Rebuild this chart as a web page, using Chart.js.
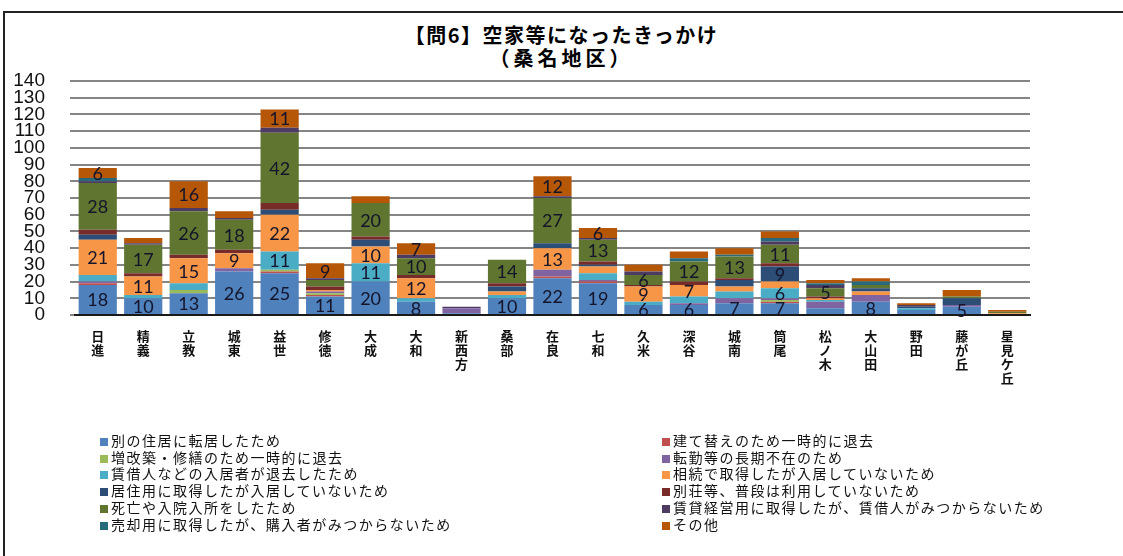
<!DOCTYPE html>
<html>
<head>
<meta charset="utf-8">
<script src="https://cdn.jsdelivr.net/npm/chart.js@4.4.0/dist/chart.umd.min.js"></script>
<style>
  html, body { margin: 0; padding: 0; background: #fff; }
  body { width: 1123px; height: 556px; position: relative; overflow: hidden; font-family: "Noto Sans CJK JP", sans-serif; }
  #frame { position: absolute; left: 3px; top: 11px; width: 1130px; height: 560px; border-left: 2px solid #222; border-top: 2px solid #222; box-sizing: border-box; }
  #title { position: absolute; left: 0; width: 1123px; top: 23px; text-align: center; font-weight: bold; font-size: 20px; line-height: 23px; color: #000; }
  #title .l1 { letter-spacing: 1.5px; }
  #title .l2 { letter-spacing: 4px; }
  #chartBox { position: absolute; left: 0; top: 0; width: 1123px; height: 420px; }
  #legend { position: absolute; left: 0; top: 0; width: 1123px; height: 556px; pointer-events: none; }
  .li { position: absolute; font-size: 14px; letter-spacing: 1.5px; line-height: 16px; color: #111; white-space: nowrap; }
  .sw { display: inline-block; width: 8px; height: 8px; margin-right: 3px; vertical-align: 0px; }
</style>
</head>
<body>
<div id="frame"></div>
<div id="title"><span class="l1">【問6】空家等になったきっかけ</span><br><span class="l2">（桑名地区）</span></div>
<div id="chartBox"><canvas id="c" width="1123" height="420"></canvas></div>
<div id="legend"></div>
<script>
const categories = ["日進","精義","立教","城東","益世","修徳","大成","大和","新西方","桑部","在良","七和","久米","深谷","城南","筒尾","松ノ木","大山田","野田","藤が丘","星見ケ丘"];

const seriesNames = [
  "別の住居に転居したため",
  "建て替えのため一時的に退去",
  "増改築・修繕のため一時的に退去",
  "転勤等の長期不在のため",
  "賃借人などの入居者が退去したため",
  "相続で取得したが入居していないため",
  "居住用に取得したが入居していないため",
  "別荘等、普段は利用していないため",
  "死亡や入院入所をしたため",
  "賃貸経営用に取得したが、賃借人がみつからないため",
  "売却用に取得したが、購入者がみつからないため",
  "その他"
];

const sBetsu      = [18,10,13,26,25,11,20, 8, 1,10,22,19, 6, 6, 7, 7, 4, 8, 3, 5, 0];
const sTatekae    = [ 1, 0, 0, 0, 1, 1, 0, 0, 0, 0, 1, 1, 0, 0, 0, 1, 0, 0, 0, 0, 0];
const sZoukaichiku= [ 0, 0, 2, 0, 1, 1, 0, 0, 0, 0, 0, 0, 0, 0, 0, 1, 0, 0, 0, 0, 0];
const sTenkin     = [ 1, 0, 0, 2, 0, 1, 0, 0, 3, 0, 4, 1, 0, 1, 3, 1, 4, 4, 0, 1, 0];
const sChinshaku  = [ 4, 2, 4, 0,11, 0,11, 2, 0, 2, 0, 4, 2, 4, 4, 6, 1, 0, 1, 0, 0];
const sSouzoku    = [21,11,15, 9,22, 1,10,12, 0, 2,13, 4, 9, 7, 3, 4, 1, 2, 0, 0, 1];
const sKyojuu     = [ 3, 0, 0, 0, 3, 0, 4, 0, 0, 3, 3, 1, 0, 0, 4, 9, 0, 2, 1, 4, 0];
const sBessou     = [ 3, 2, 2, 2, 4, 2, 2, 2, 0, 2, 0, 2, 1, 2, 1, 2, 1, 0, 0, 0, 0];
const sShibou     = [28,17,26,18,42, 4,20,10, 0,14,27,13, 6,12,13,11, 5, 2, 0, 1, 1];
const sChintai    = [ 1, 1, 2, 1, 3, 1, 0, 2, 1, 0, 1, 1, 2, 0, 0, 2, 2, 0, 1, 0, 0];
const sBaikyaku   = [ 2, 0, 0, 0, 0, 0, 0, 0, 0, 0, 0, 0, 0, 2, 1, 2, 1, 2, 0, 0, 0];
const sSonota     = [ 6, 3,16, 4,11, 9, 4, 7, 0, 0,12, 6, 4, 4, 4, 4, 2, 2, 1, 4, 1];

const yTicks = [0,10,20,30,40,50,60,70,80,90,100,110,120,130,140];

const seriesValues = [sBetsu,sTatekae,sZoukaichiku,sTenkin,sChinshaku,sSouzoku,sKyojuu,sBessou,sShibou,sChintai,sBaikyaku,sSonota];
const colors = ["#4F81BD","#C0504D","#9BBB59","#8064A2","#4BACC6","#F79646","#2C4D75","#772C2A","#5F7530","#4D3B62","#276A7C","#B65708"];

const labelPlugin = {
  id: 'segLabels',
  afterDatasetsDraw(chart) {
    const ctx = chart.ctx;
    ctx.save();
    ctx.font = '18px Lato, "Liberation Sans", sans-serif';
    ctx.fillStyle = '#14142a';
    ctx.textAlign = 'center';
    ctx.textBaseline = 'middle';
    chart.data.datasets.forEach((ds, i) => {
      const meta = chart.getDatasetMeta(i);
      meta.data.forEach((el, j) => {
        const v = ds.data[j];
        if (v >= 5) {
          const p = el.getProps(['x','y','base'], true);
          ctx.fillText(String(v), p.x, (p.y + p.base) / 2 + 1);
        }
      });
    });
    ctx.restore();
  }
};

const chart = new Chart(document.getElementById('c'), {
  type: 'bar',
  data: {
    labels: categories,
    datasets: seriesNames.map((n, i) => ({
      label: n,
      data: seriesValues[i],
      backgroundColor: colors[i],
      borderWidth: 0,
      barPercentage: 0.84,
      categoryPercentage: 1.0
    }))
  },
  options: {
    responsive: false,
    animation: false,
    events: [],
    layout: { padding: { top: 81, right: 93, left: 0, bottom: 0 } },
    plugins: { legend: { display: false }, title: { display: false }, tooltip: { enabled: false } },
    scales: {
      x: {
        stacked: true,
        grid: { display: false, drawTicks: false },
        border: { display: true, color: '#1a1a1a', width: 2 },
        ticks: {
          autoSkip: false, maxRotation: 0, minRotation: 0, padding: 14,
          color: '#111',
          font: { family: '"Noto Sans CJK JP", sans-serif', size: 13, weight: 'bold', lineHeight: 1.08 },
          callback: function(v, i) { return Array.from(categories[i]); }
        },
        afterFit(scale) { scale.height = 105; }
      },
      y: {
        stacked: true,
        min: 0, max: 140,
        afterBuildTicks(scale) { scale.ticks = yTicks.map(v => ({ value: v })); },
        grid: { color: '#858585', lineWidth: 2, drawTicks: true, tickLength: 5 },
        border: { display: false },
        ticks: {
          autoSkip: false, padding: 25, color: '#111',
          font: { family: '"Liberation Sans Narrow", "Liberation Sans", sans-serif', size: 19, lineHeight: 1 },
          callback: v => String(v)
        },
        afterFit(scale) { scale.width = 75; }
      }
    }
  },
  plugins: [labelPlugin]
});

// HTML legend built from the chart's datasets
const leg = document.getElementById('legend');
chart.data.datasets.forEach((ds, i) => {
  const row = Math.floor(i / 2), col = i % 2;
  const d = document.createElement('div');
  d.className = 'li';
  d.style.left = (col === 0 ? 100 : 662) + 'px';
  d.style.top = (432 + row * 16.7) + 'px';
  const sw = document.createElement('span');
  sw.className = 'sw';
  sw.style.background = ds.backgroundColor;
  d.appendChild(sw);
  d.appendChild(document.createTextNode(ds.label));
  leg.appendChild(d);
});
</script>
</body>
</html>
